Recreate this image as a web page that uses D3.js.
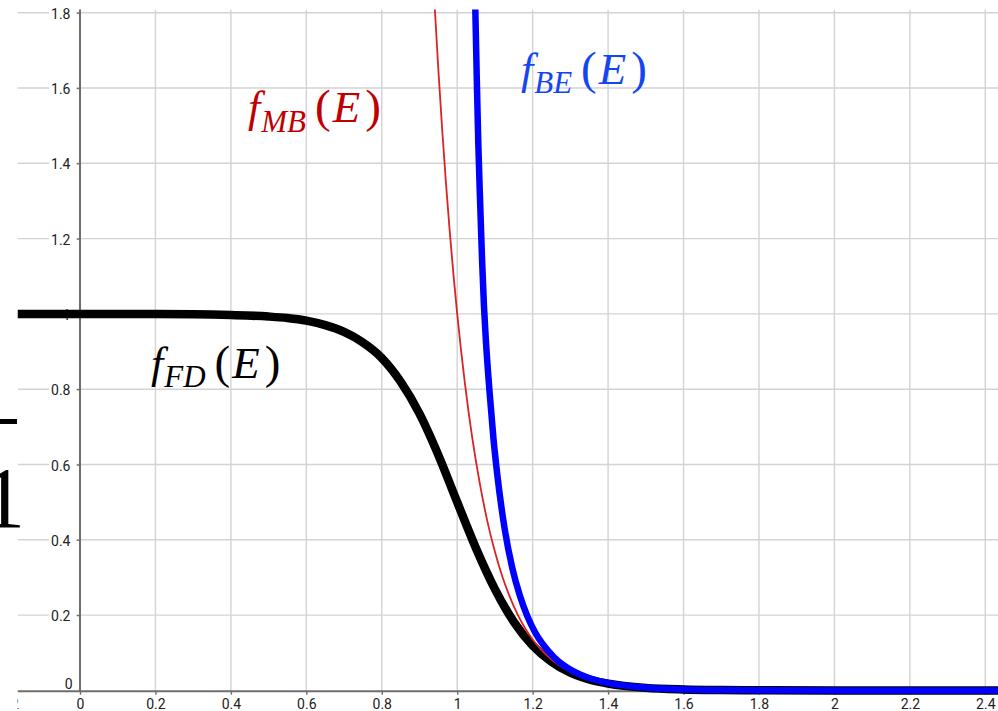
<!DOCTYPE html>
<html>
<head>
<meta charset="utf-8">
<script src="https://cdn.jsdelivr.net/npm/d3@7/dist/d3.min.js"></script>
<style>
  html, body { margin: 0; padding: 0; background: #fff; }
  svg { display: block; }
</style>
</head>
<body>
<div id="chart"></div>
<script>
// Occupation functions vs energy E (chemical potential 1, kT 0.1)

// Fermi–Dirac
const fdE = [-0.25, 0, 0.2, 0.3, 0.4, 0.5, 0.55, 0.6, 0.65, 0.7, 0.75, 0.8, 0.85, 0.9, 0.95, 1.0, 1.05, 1.1, 1.15, 1.2, 1.25, 1.3, 1.35, 1.4, 1.5, 1.6, 1.7, 1.8, 2.0, 2.2, 2.5];
const fdF = [1.0, 1.0, 0.9995, 0.999, 0.997, 0.993, 0.989, 0.982, 0.97, 0.952, 0.924, 0.883, 0.82, 0.735, 0.625, 0.5, 0.377, 0.269, 0.182, 0.119, 0.076, 0.047, 0.029, 0.018, 0.0067, 0.0025, 0.0009, 0.0003, 0.00005, 0.0, 0.0];

// Maxwell–Boltzmann
const mbE = [0.93, 0.94, 0.95, 0.96, 0.97, 0.98, 0.99, 1.0, 1.02, 1.04, 1.06, 1.08, 1.1, 1.12, 1.14, 1.16, 1.18, 1.2, 1.25, 1.3, 1.35, 1.4, 1.5, 1.6, 1.8, 2.0, 2.5];
const mbF = [2.014, 1.822, 1.649, 1.492, 1.35, 1.221, 1.105, 1.0, 0.819, 0.67, 0.549, 0.449, 0.368, 0.301, 0.247, 0.202, 0.165, 0.135, 0.082, 0.0498, 0.0302, 0.0183, 0.0067, 0.0025, 0.0003, 0.00005, 0.0];

// Bose–Einstein
const beE = [1.044, 1.048, 1.052, 1.056, 1.061, 1.066, 1.071, 1.076, 1.086, 1.096, 1.106, 1.126, 1.146, 1.166, 1.186, 1.206, 1.256, 1.306, 1.356, 1.406, 1.506, 1.606, 1.706, 1.806, 2.0, 2.5];
const beF = [2.03, 1.809, 1.62, 1.45, 1.29, 1.14, 1.02, 0.93, 0.79, 0.67, 0.575, 0.428, 0.325, 0.252, 0.197, 0.155, 0.089, 0.052, 0.031, 0.0186, 0.0068, 0.0025, 0.0009, 0.0003, 0.00005, 0.0];

const xTickValues = [-0.2, 0, 0.2, 0.4, 0.6, 0.8, 1, 1.2, 1.4, 1.6, 1.8, 2, 2.2, 2.4];
const xTickLabels = ["\u22120.2", "0", "0.2", "0.4", "0.6", "0.8", "1", "1.2", "1.4", "1.6", "1.8", "2", "2.2", "2.4"];
const yTickValues = [0, 0.2, 0.4, 0.6, 0.8, 1, 1.2, 1.4, 1.6, 1.8];
const yTickLabels = ["0", "0.2", "0.4", "0.6", "0.8", "1", "1.2", "1.4", "1.6", "1.8"];

const W = 998, H = 711;
const plotLeft = 17.5, plotTop = 9.5, axisY = 691.2;

const x = d3.scaleLinear().domain([0, 2.4]).range([80, 985.3]);
const y = d3.scaleLinear().domain([0, 1.8]).range([690.4, 12.7]);

const svg = d3.select("#chart").append("svg")
  .attr("width", W).attr("height", H)
  .attr("viewBox", `0 0 ${W} ${H}`);

svg.append("defs").append("clipPath").attr("id", "plotClip")
  .append("rect")
  .attr("x", plotLeft).attr("y", plotTop)
  .attr("width", W - plotLeft).attr("height", axisY + 4 - plotTop);

const gridColor = "#d3d3d3";
const axisColor = "#6e6e6e";
const tickFont = "Roboto, 'Noto Sans', sans-serif";
const tickColor = "#222";
const tickSize = "14px";

// grid
const grid = svg.append("g").attr("clip-path", "url(#plotClip)");
grid.selectAll("line.v").data(xTickValues.filter(v => v !== 0)).join("line")
  .attr("class", "v")
  .attr("x1", d => x(d)).attr("x2", d => x(d))
  .attr("y1", plotTop).attr("y2", axisY)
  .attr("stroke", gridColor).attr("stroke-width", 1.4);
grid.selectAll("line.h").data(yTickValues.filter(v => v !== 0)).join("line")
  .attr("class", "h")
  .attr("x1", plotLeft).attr("x2", W)
  .attr("y1", d => y(d)).attr("y2", d => y(d))
  .attr("stroke", gridColor).attr("stroke-width", 1.4);

// y axis with labels on white backing
const yAxis = svg.append("g").attr("transform", `translate(${x(0)},0)`)
  .call(d3.axisLeft(y).tickValues(yTickValues.filter(v => v !== 0))
    .tickFormat((d) => yTickLabels[yTickValues.indexOf(d)])
    .tickSize(3.5).tickPadding(6));
yAxis.attr("font-size", null).attr("font-family", null);
yAxis.select(".domain").remove();
yAxis.selectAll(".tick line").attr("stroke", axisColor).attr("stroke-width", 1.4);
yAxis.selectAll(".tick text")
  .style("font-family", tickFont).style("font-size", tickSize).attr("fill", tickColor)
  .attr("dy", "0.4em");
yAxis.selectAll(".tick").each(function () {
  const b = d3.select(this).select("text").node().getBBox();
  d3.select(this).insert("rect", "text")
    .attr("x", b.x - 2).attr("y", -6).attr("width", -3.5 - (b.x - 2)).attr("height", 12)
    .attr("fill", "#fff");
});
// zero label sits just above the horizontal axis
svg.append("text")
  .attr("x", x(0) - 7.5).attr("y", y(0) - 1.5)
  .attr("text-anchor", "end")
  .style("font-family", tickFont).style("font-size", tickSize).attr("fill", tickColor)
  .text(yTickLabels[0]);

svg.append("line")
  .attr("x1", x(0)).attr("x2", x(0))
  .attr("y1", plotTop).attr("y2", axisY)
  .attr("stroke", axisColor).attr("stroke-width", 2);

// x axis
const xAxis = svg.append("g").attr("transform", `translate(0,${axisY})`)
  .call(d3.axisBottom(x).tickValues(xTickValues)
    .tickFormat((d) => xTickLabels[xTickValues.indexOf(d)])
    .tickSize(3.5).tickPadding(4));
xAxis.attr("font-size", null).attr("font-family", null);
xAxis.select(".domain").remove();
xAxis.selectAll(".tick line").attr("stroke", axisColor).attr("stroke-width", 1.4);
xAxis.selectAll(".tick text")
  .style("font-family", tickFont).style("font-size", tickSize).attr("fill", tickColor);
svg.append("line")
  .attr("x1", plotLeft).attr("x2", W)
  .attr("y1", axisY).attr("y2", axisY)
  .attr("stroke", axisColor).attr("stroke-width", 2);

// curves
const curves = svg.append("g").attr("clip-path", "url(#plotClip)");
const line = d3.line().x(d => x(d[0])).y(d => y(d[1])).curve(d3.curveMonotoneX);
const zipped = (es, fs) => es.map((e, i) => [e, fs[i]]);

curves.append("path").datum(zipped(fdE, fdF))
  .attr("d", line).attr("fill", "none")
  .attr("stroke", "#000").attr("stroke-width", 8.5).attr("stroke-linejoin", "round");
curves.append("path").datum(zipped(mbE, mbF))
  .attr("d", line).attr("fill", "none")
  .attr("stroke", "#d82424").attr("stroke-width", 1.8);
curves.append("path").datum(zipped(beE, beF))
  .attr("d", line).attr("fill", "none")
  .attr("stroke", "#0000ff").attr("stroke-width", 6.5).attr("stroke-linejoin", "round");

// curve labels: italic f with subscript, then (E); pieces are laid out one after another
function mathLabel(x0, base, sub, color, subDrop) {
  const g = svg.append("g").attr("fill", color)
    .style("font-family", "'Liberation Serif', 'Times New Roman', serif");
  const pieces = [
    { t: "f", italic: true, size: 44, dy: 0, gap: 1 },
    { t: sub, italic: true, size: 31, dy: subDrop, gap: 9 },
    { t: "(", italic: false, size: 47, dy: 0, gap: 2 },
    { t: "E", italic: true, size: 45, dy: 0, gap: 5 },
    { t: ")", italic: false, size: 47, dy: 0, gap: 0 }
  ];
  let cx = x0;
  pieces.forEach(p => {
    const el = g.append("text")
      .attr("x", cx).attr("y", base + p.dy)
      .style("font-style", p.italic ? "italic" : "normal")
      .style("font-size", p.size + "px")
      .text(p.t);
    cx += el.node().getComputedTextLength() + p.gap;
  });
}
mathLabel(248, 122, "MB", "#c00000", 10);
mathLabel(521, 84, "BE", "#1446f0", 9);
mathLabel(151, 378, "FD", "#000", 9);

// left margin strip with the edge of a fraction
svg.append("rect").attr("x", 0).attr("y", 0).attr("width", plotLeft).attr("height", H).attr("fill", "#fff");
svg.append("rect").attr("x", 0).attr("y", 419).attr("width", 17).attr("height", 5).attr("fill", "#000");
svg.append("text")
  .attr("x", -18).attr("y", 527)
  .style("font-family", "'Liberation Serif', 'Times New Roman', serif")
  .style("font-size", "86px").attr("fill", "#000")
  .text("1");
</script>
</body>
</html>
